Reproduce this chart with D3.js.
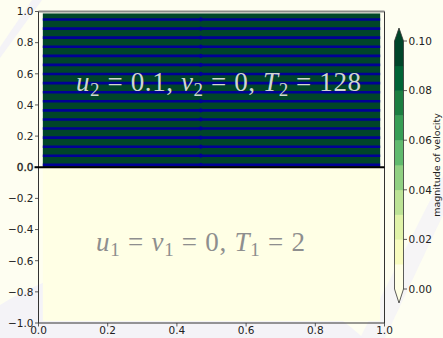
<!DOCTYPE html>
<html>
<head>
<meta charset="utf-8">
<script src="https://cdn.jsdelivr.net/npm/d3@7"></script>
<style>
  html, body { margin: 0; padding: 0; background: #fefef1; }
  svg { display: block; }
</style>
</head>
<body>
<svg id="chart" width="443" height="338"></svg>
<script>
// ---- data ----
const levels = [0, 0.01, 0.02, 0.03, 0.04, 0.05, 0.06, 0.07, 0.08, 0.09, 0.10];
const colorbarTicks = [0, 0.02, 0.04, 0.06, 0.08, 0.10];
const xTicks = [0, 0.2, 0.4, 0.6, 0.8, 1.0];
const yTicks = [-1.0, -0.8, -0.6, -0.4, -0.2, 0.0, 0.2, 0.4, 0.6, 0.8, 1.0];

// cell-centre extent of the grid
const gridX = [0.0125, 0.9875];
const gridYLower = [-0.9875, 0];
const gridYUpper = [0, 0.9875];

// layer velocities (lower, upper)
const layerU = [0, 0.1];
const layerV = [0, 0];

// rows of velocity arrows in the upper layer
const arrowRowsY = [0.015, 0.074, 0.132, 0.190, 0.249, 0.307, 0.365, 0.424, 0.482,
                    0.540, 0.599, 0.657, 0.715, 0.774, 0.832, 0.890, 0.949];
const arrowHeadX = [0.469];

// YlGn colour stops
const ylgn = ["#ffffe5", "#f7fcb9", "#d9f0a3", "#addd8e", "#78c679",
              "#41ab5d", "#238443", "#006837", "#004529"];

// ---- scales ----
const svg = d3.select("#chart");
const x = d3.scaleLinear().domain([0, 1]).range([38.5, 384.5]);
const y = d3.scaleLinear().domain([-1, 1]).range([323, 11.5]);
const cmap = d3.piecewise(d3.interpolateRgb, ylgn);
const vmin = levels[0], vmax = levels[levels.length - 1];
const nBands = levels.length - 1;

// filled-contour colour of a value: band i of n takes cmap(i / (n - 1))
function bandIndex(z) {
  let i = 0;
  while (i < nBands - 1 && z > levels[i + 1]) i++;
  return i;
}
function bandColor(z) {
  if (z < vmin) return cmap(0);
  if (z > vmax) return cmap(1);
  return cmap(bandIndex(z) / (nBands - 1));
}

// ---- faint background shapes ----
const bg = svg.append("g").attr("fill", "#f4f3f7");
bg.append("path").attr("d", "M32,0 L42,0 L0,58 L0,47 Z");
bg.append("circle").attr("cx", 160).attr("cy", 560).attr("r", 301);
bg.append("path").attr("d", "M443,175 L443,215 L385,338 L360,338 Z").attr("opacity", 0.8);

// ---- velocity magnitude field ----
const mag = layerU.map((u, i) => Math.hypot(u, layerV[i]));
const plot = svg.append("g");
plot.append("rect")
  .attr("x", x(gridX[0])).attr("width", x(gridX[1]) - x(gridX[0]))
  .attr("y", y(gridYLower[1])).attr("height", y(gridYLower[0]) - y(gridYLower[1]))
  .attr("fill", bandColor(mag[0]));
plot.append("rect")
  .attr("x", x(gridX[0])).attr("width", x(gridX[1]) - x(gridX[0]))
  .attr("y", y(gridYUpper[1])).attr("height", y(gridYUpper[0]) - y(gridYUpper[1]))
  .attr("fill", bandColor(mag[1]));

// arrows: dense rows that merge into lines
plot.selectAll("line.arrow").data(arrowRowsY).join("line")
  .attr("class", "arrow")
  .attr("x1", x(gridX[0])).attr("x2", x(gridX[1]))
  .attr("y1", d => y(d)).attr("y2", d => y(d))
  .attr("stroke", "#000096").attr("stroke-width", 2.6);
plot.selectAll("ellipse.head").data(arrowRowsY).join("ellipse")
  .attr("class", "head")
  .attr("cx", x(arrowHeadX[0])).attr("cy", d => y(d))
  .attr("rx", 1.8).attr("ry", 2.1)
  .attr("fill", "#000096");

// ---- annotations ----
function mathText(px, py, parts, fill, width) {
  const t = svg.append("text")
    .attr("x", px).attr("y", py)
    .attr("font-family", "'Liberation Serif', 'DejaVu Serif', serif")
    .attr("font-size", 27).attr("fill", fill);
  let shifted = false;
  parts.forEach(([s, kind]) => {
    const ts = t.append("tspan").text(s);
    if (kind === "i") ts.attr("font-style", "italic");
    if (kind === "sub") { ts.attr("font-size", 19).attr("dy", 5.5); shifted = true; }
    else if (shifted) { ts.attr("dy", -5.5); shifted = false; }
  });
  t.attr("textLength", width).attr("lengthAdjust", "spacing");
  t.style("white-space", "pre");
  return t;
}
mathText(76, 90.5, [["u", "i"], ["2", "sub"], [" = 0.1, ", "r"], ["v", "i"], ["2", "sub"],
  [" = 0, ", "r"], ["T", "i"], ["2", "sub"], [" = 128", "r"]], "#cfd6d0", 285);
mathText(96, 250.5, [["u", "i"], ["1", "sub"], [" = ", "r"], ["v", "i"], ["1", "sub"],
  [" = 0, ", "r"], ["T", "i"], ["1", "sub"], [" = 2", "r"]], "#8e8e8e", 209);

// ---- axes ----
const axes = svg.append("g");
const fmt = d => (d < 0 ? "\u2212" : "") + Math.abs(d).toFixed(1);
const tickFont = "'DejaVu Sans', 'Noto Sans', sans-serif";
axes.append("line").attr("x1", x(0)).attr("x2", x(1)).attr("y1", y(1)).attr("y2", y(1))
  .attr("stroke", "#8a8a8a").attr("stroke-width", 2);
axes.append("line").attr("x1", x(1)).attr("x2", x(1)).attr("y1", y(1)).attr("y2", y(-1))
  .attr("stroke", "#333").attr("stroke-width", 1);
axes.append("line").attr("x1", x(0)).attr("x2", x(0)).attr("y1", y(1)).attr("y2", y(-1))
  .attr("stroke", "#333").attr("stroke-width", 1);
axes.append("line").attr("x1", x(0)).attr("x2", x(1)).attr("y1", y(-1)).attr("y2", y(-1))
  .attr("stroke", "#333").attr("stroke-width", 1);

axes.selectAll("line.yt").data(yTicks).join("line").attr("class", "yt")
  .attr("x1", x(0) - 3.5).attr("x2", x(0)).attr("y1", d => y(d)).attr("y2", d => y(d))
  .attr("stroke", "#333").attr("stroke-width", 0.8);
axes.selectAll("text.yl").data(yTicks).join("text").attr("class", "yl")
  .attr("x", x(0) - 5).attr("y", d => y(d) + 3.8)
  .attr("text-anchor", "end")
  .attr("font-family", tickFont).attr("font-size", 10.5)
  .attr("fill", "#222")
  .attr("stroke", d => d === 0 ? "#222" : "none").attr("stroke-width", 0.35)
  .text(fmt);

axes.selectAll("line.xt").data(xTicks).join("line").attr("class", "xt")
  .attr("x1", d => x(d)).attr("x2", d => x(d)).attr("y1", y(-1)).attr("y2", y(-1) + 3.5)
  .attr("stroke", "#333").attr("stroke-width", 0.8);
axes.selectAll("text.xl").data(xTicks).join("text").attr("class", "xl")
  .attr("x", d => x(d)).attr("y", y(-1) + 11)
  .attr("text-anchor", "middle")
  .attr("font-family", tickFont).attr("font-size", 10.5)
  .attr("fill", "#222")
  .text(fmt);

// interface between the layers
axes.append("line").attr("x1", x(0) - 4).attr("x2", x(1)).attr("y1", y(0)).attr("y2", y(0))
  .attr("stroke", "#000").attr("stroke-width", 2);

// ---- colourbar ----
const cb = svg.append("g");
const cbx0 = 394.5, cbx1 = 403.5, cbxm = (cbx0 + cbx1) / 2;
const cy = d3.scaleLinear().domain([vmin, vmax]).range([289, 41]);
const bands = d3.pairs(levels);
cb.selectAll("rect").data(bands).join("rect")
  .attr("x", cbx0).attr("width", cbx1 - cbx0)
  .attr("y", d => cy(d[1])).attr("height", d => cy(d[0]) - cy(d[1]) + 0.3)
  .attr("fill", d => bandColor((d[0] + d[1]) / 2));
cb.append("path").attr("d", `M${cbx0},${cy(vmax)} L${cbxm},${cy(vmax) - 13} L${cbx1},${cy(vmax)} Z`)
  .attr("fill", bandColor(vmax + 1));
cb.append("path").attr("d", `M${cbx0},${cy(vmin)} L${cbxm},${cy(vmin) + 14} L${cbx1},${cy(vmin)} Z`)
  .attr("fill", bandColor(vmin - 1));
cb.append("path")
  .attr("d", `M${cbx0},${cy(vmax)} L${cbxm},${cy(vmax) - 13} L${cbx1},${cy(vmax)} L${cbx1},${cy(vmin)} L${cbxm},${cy(vmin) + 14} L${cbx0},${cy(vmin)} Z`)
  .attr("fill", "none").attr("stroke", "#333").attr("stroke-width", 0.8);
cb.selectAll("line.ct").data(colorbarTicks).join("line").attr("class", "ct")
  .attr("x1", cbx1).attr("x2", cbx1 + 3.5).attr("y1", d => cy(d)).attr("y2", d => cy(d))
  .attr("stroke", "#333").attr("stroke-width", 0.8);
cb.selectAll("text.cl").data(colorbarTicks).join("text").attr("class", "cl")
  .attr("x", cbx1 + 5).attr("y", d => cy(d) + 3.8)
  .attr("font-family", tickFont).attr("font-size", 10.5)
  .attr("fill", "#222")
  .text(d => d.toFixed(2));
cb.append("text")
  .attr("transform", `translate(440,165) rotate(-90)`)
  .attr("text-anchor", "middle")
  .attr("font-family", tickFont).attr("font-size", 9.5)
  .attr("fill", "#222")
  .text("magnitude of velocity");
</script>
</body>
</html>
